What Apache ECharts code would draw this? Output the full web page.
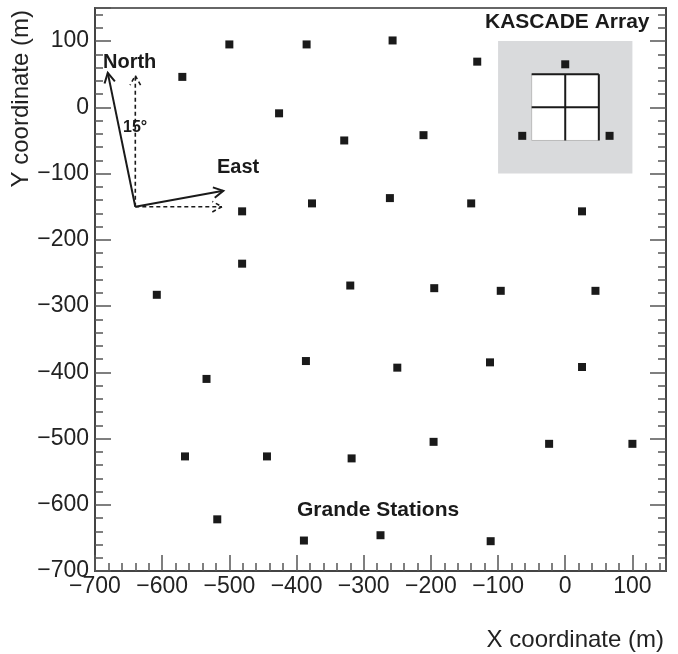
<!DOCTYPE html>
<html>
<head>
<meta charset="utf-8">
<script src="https://cdn.jsdelivr.net/npm/echarts@6/dist/echarts.min.js"></script>
<style>
	html, body { margin: 0; padding: 0; background: #fff; }
	#main { width: 678px; height: 654px; }
</style>
</head>
<body>
<div id="main"></div>
<script>
//Grande stations (x, y) in metres
var stations = [
	[-500, 95], [-385, 95], [-257, 101], [-131, 69], [0, 65],
	[-570, 46], [-426, -9], [-329, -50], [-211, -42], [-64, -43], [66, -43],
	[-481, -157], [-377, -145], [-261, -137], [-140, -145], [25, -157],
	[-481, -236], [-608, -283], [-320, -269], [-195, -273], [-96, -277], [45, -277],
	[-386, -383], [-534, -410], [-250, -393], [-112, -385], [25, -392],
	[-566, -527], [-444, -527], [-318, -530], [-196, -505], [-24, -508], [100, -508],
	[-518, -622], [-389, -654], [-275, -646], [-111, -655]
];

//axis range
var xRange = [-700, 150];
var yRange = [-700, 150];

//KASCADE array: outer field and centre square (x0, x1, y0, y1)
var kascadeField = [-100, 100, -100, 100];
var kascadeCentre = [-50, 50, -50, 50];

//north / east arrows (x0, y0, x1, y1)
var arrows = [
	[-640, -150, -681, 52],
	[-640, -150, -509, -126],
	[-640, -150, -640, 48],
	[-640, -150, -511, -150]
];
var arrowDashed = [false, false, true, true];

var font = 'Liberation Sans';
var ink = '#1a1a1a';

function fmt(v) {
	if(v > 100) return '';
	return String(v).replace('-', '\u2212');
}

function xAx(interval, len, labels) {
	return {
		type: 'value',
		position: 'bottom',
		min: xRange[0],
		max: xRange[1],
		interval: interval,
		axisLine: { show: labels, onZero: false, lineStyle: { color: '#444', width: 2 } },
		axisTick: { show: true, inside: true, length: len, lineStyle: { color: '#555', width: 1.5 } },
		axisLabel: {
			show: labels,
			margin: 4,
			color: '#222',
			fontFamily: font,
			fontSize: 23,
			formatter: fmt
		},
		splitLine: { show: false }
	};
}

function yAx(interval, len, pos, labels) {
	return {
		type: 'value',
		position: pos,
		min: yRange[0],
		max: yRange[1],
		interval: interval,
		axisLine: { show: len > 10, onZero: false, lineStyle: { color: '#444', width: 2 } },
		axisTick: { show: true, inside: true, length: len, lineStyle: { color: '#555', width: 1.5 } },
		axisLabel: {
			show: labels,
			margin: 6,
			color: '#222',
			fontFamily: font,
			fontSize: 23,
			formatter: fmt
		},
		splitLine: { show: false }
	};
}

var myChart = echarts.init(document.getElementById('main'));
myChart.setOption({
	animation: false,
	backgroundColor: '#fff',
	grid: {
		left: 95,
		right: 12,
		top: 8,
		bottom: 83,
		show: true,
		borderColor: '#666',
		borderWidth: 2,
		containLabel: false,
		outerBoundsMode: 'none'
	},
	xAxis: [xAx(100, 16, true), xAx(20, 8, false)],
	yAxis: [
		yAx(100, 16, 'left', true),
		yAx(20, 8, 'left', false),
		yAx(100, 16, 'right', false),
		yAx(20, 8, 'right', false)
	],
	series: [{
		//KASCADE field
		type: 'custom',
		z: 1,
		silent: true,
		data: [kascadeField.concat(kascadeCentre)],
		renderItem: function(params, api) {
			var a = api.coord([api.value(0), api.value(3)]);
			var b = api.coord([api.value(1), api.value(2)]);
			var c = api.coord([api.value(4), api.value(7)]);
			var d = api.coord([api.value(5), api.value(6)]);
			var mx = (c[0] + d[0]) / 2;
			var my = (c[1] + d[1]) / 2;
			var blk = { stroke: ink, lineWidth: 2 };
			return {
				type: 'group',
				children: [{
					type: 'rect',
					shape: { x: a[0], y: a[1], width: b[0] - a[0], height: b[1] - a[1] },
					style: { fill: '#d9dadc' }
				}, {
					type: 'rect',
					shape: { x: c[0], y: c[1], width: d[0] - c[0], height: d[1] - c[1] },
					style: { fill: '#fff', stroke: '#bbb', lineWidth: 1 }
				}, {
					type: 'line',
					shape: { x1: c[0], y1: c[1], x2: d[0], y2: c[1] },
					style: blk
				}, {
					type: 'line',
					shape: { x1: d[0], y1: c[1], x2: d[0], y2: d[1] },
					style: blk
				}, {
					type: 'line',
					shape: { x1: mx, y1: c[1], x2: mx, y2: d[1] },
					style: blk
				}, {
					type: 'line',
					shape: { x1: c[0], y1: my, x2: d[0], y2: my },
					style: blk
				}]
			};
		}
	}, {
		//arrows
		type: 'custom',
		z: 2,
		silent: true,
		data: arrows,
		renderItem: function(params, api) {
			var p0 = api.coord([api.value(0), api.value(1)]);
			var p1 = api.coord([api.value(2), api.value(3)]);
			var ang = Math.atan2(p1[1] - p0[1], p1[0] - p0[0]);
			var L = 11, w = 0.5;
			var h1 = [p1[0] - L * Math.cos(ang - w), p1[1] - L * Math.sin(ang - w)];
			var h2 = [p1[0] - L * Math.cos(ang + w), p1[1] - L * Math.sin(ang + w)];
			var dashed = arrowDashed[params.dataIndex];
			var st = {
				stroke: ink,
				lineWidth: dashed ? 1.6 : 2,
				fill: null,
				lineDash: dashed ? [4, 3] : null
			};
			return {
				type: 'group',
				children: [{
					type: 'polyline',
					shape: { points: [p0, p1] },
					style: st
				}, {
					type: 'polyline',
					shape: { points: [h1, p1, h2] },
					style: st
				}]
			};
		}
	}, {
		name: 'Grande Stations',
		type: 'scatter',
		z: 5,
		symbol: 'rect',
		symbolSize: 8,
		itemStyle: { color: ink, opacity: 1 },
		data: stations
	}],
	graphic: [{
		type: 'text',
		x: 664, y: 640,
		style: { text: 'X coordinate (m)', font: '24px "' + font + '"', fill: '#222', textAlign: 'right', textVerticalAlign: 'middle' }
	}, {
		type: 'text',
		x: 21, y: 10,
		rotation: Math.PI / 2,
		style: { text: 'Y coordinate (m)', font: '24px "' + font + '"', fill: '#222', textAlign: 'right', textVerticalAlign: 'middle' }
	}, {
		type: 'text',
		x: 485, y: 22,
		z: 10,
		style: { text: 'KASCADE Array', font: 'bold 21px "' + font + '"', fill: ink, textVerticalAlign: 'middle' }
	}, {
		type: 'text',
		x: 297, y: 510,
		z: 10,
		style: { text: 'Grande Stations', font: 'bold 21px "' + font + '"', fill: ink, textVerticalAlign: 'middle' }
	}, {
		type: 'text',
		x: 103, y: 62,
		z: 10,
		style: { text: 'North', font: 'bold 20px "' + font + '"', fill: ink, textVerticalAlign: 'middle' }
	}, {
		type: 'text',
		x: 217, y: 167,
		z: 10,
		style: { text: 'East', font: 'bold 20px "' + font + '"', fill: ink, textVerticalAlign: 'middle' }
	}, {
		type: 'text',
		x: 123, y: 128,
		z: 10,
		style: { text: '15\u00b0', font: 'bold 16px "' + font + '"', fill: ink, textVerticalAlign: 'middle' }
	}]
});
</script>
</body>
</html>
